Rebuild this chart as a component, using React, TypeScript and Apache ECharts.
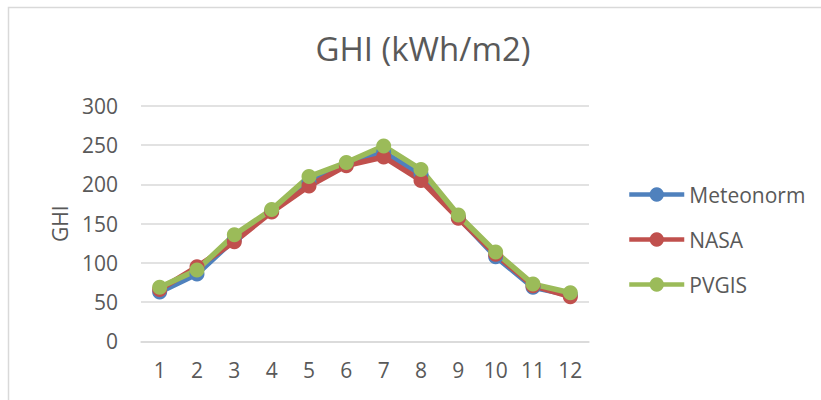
import React, { useEffect, useRef } from "react";
import * as echarts from "echarts";

const months = ["1", "2", "3", "4", "5", "6", "7", "8", "9", "10", "11", "12"];
const meteonorm = [63, 86, 130, 166, 203, 226, 241, 213, 158, 108, 69, 59];
const nasa = [66, 95, 127, 165, 198, 224, 235, 205, 157, 111, 71, 57];
const pvgis = [69, 91, 136, 168, 210, 228, 249, 219, 161, 114, 73, 62];
const seriesNames = ["Meteonorm", "NASA", "PVGIS"];
const seriesColors = ["#4f81bd", "#c0504d", "#9bbb59"];

const FONT = "'Open Sans', 'Noto Sans', sans-serif";
const TXT = "#595959";

export default function App() {
  const ref = useRef<HTMLDivElement>(null);
  useEffect(() => {
    if (!ref.current) return;
    const chart = echarts.init(ref.current, null, { renderer: "svg" });
    const data = [meteonorm, nasa, pvgis];
    chart.setOption({
      animation: false,
      backgroundColor: "#ffffff",
      textStyle: { fontFamily: FONT },
      title: {
        text: "GHI (kWh/m2)",
        left: 418,
        textAlign: "center",
        top: 27,
        textStyle: { fontFamily: FONT, fontSize: 33, fontWeight: "normal", color: TXT },
      },
      graphic: [
        {
          type: "rect",
          shape: { x: 8.5, y: 7.5, width: 1000, height: 600 },
          style: { fill: "none", stroke: "#d9d9d9", lineWidth: 1.5 },
          silent: true,
        },
      ],
      legend: {
        orient: "vertical",
        left: 627,
        top: 184,
        padding: 0,
        itemWidth: 55,
        itemHeight: 18,
        itemGap: 24,
        lineStyle: { width: 4.5 },
        textStyle: { fontFamily: FONT, fontSize: 21, color: TXT, padding: [0, 0, 0, 0] },
        data: seriesNames,
      },
      grid: { left: 141, right: 232, top: 106, bottom: 58.6, containLabel: false },
      xAxis: {
        type: "category",
        data: months,
        boundaryGap: true,
        axisLine: { show: true, lineStyle: { color: "#d9d9d9", width: 1.5 } },
        axisTick: { show: false },
        axisLabel: { fontFamily: FONT, fontSize: 21, color: TXT, margin: 18 },
      },
      yAxis: {
        type: "value",
        min: 0,
        max: 300,
        interval: 50,
        name: "GHI",
        nameLocation: "middle",
        nameGap: 71,
        nameTextStyle: { fontFamily: FONT, fontSize: 21, color: TXT },
        axisLine: { show: false },
        axisTick: { show: false },
        axisLabel: { fontFamily: FONT, fontSize: 21, color: TXT, margin: 23 },
        splitLine: { lineStyle: { color: "#d9d9d9", width: 1.5 } },
      },
      series: seriesNames.map((n, i) => ({
        name: n,
        type: "line",
        data: data[i],
        symbol: "circle",
        symbolSize: 15,
        color: seriesColors[i],
        lineStyle: { width: 5.5, color: seriesColors[i] },
        itemStyle: { color: seriesColors[i] },
      })),
    });
    return () => chart.dispose();
  }, []);
  return (
    <div
      ref={ref}
      style={{ position: "absolute", left: 0, top: 0, width: 821, height: 400 }}
    />
  );
}
